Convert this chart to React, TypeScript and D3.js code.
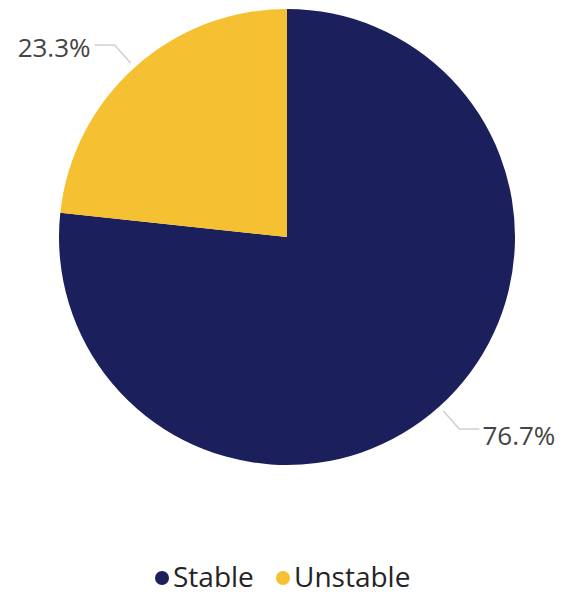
import React from "react";
import * as d3 from "d3";

const categories = ["Stable", "Unstable"];
const values = [76.7, 23.3];
const labels = ["76.7%", "23.3%"];
const colors = ["#1b1f5b", "#f5c133"];

export default function App() {
  const W = 561, H = 595;
  const cx = 287, cy = 237, r = 228;
  const pie = d3.pie<number>().sort(null).value((d) => d)(values);
  const arc = d3.arc<d3.PieArcDatum<number>>().innerRadius(0).outerRadius(r);
  const font = "'Segoe UI', 'Open Sans', sans-serif";

  const labelEls = pie.map((p, i) => {
    const mid = (p.startAngle + p.endAngle) / 2;
    const sx = Math.sin(mid), sy = -Math.cos(mid);
    const p0 = [cx + sx * (r + 6), cy + sy * (r + 6)];
    const p1 = [cx + sx * (r + 30), cy + sy * (r + 30)];
    const right = sx > 0;
    const p2 = [p1[0] + (right ? 20 : -20), p1[1]];
    return (
      <g key={i}>
        <polyline
          points={[p0, p1, p2].map((q) => q.join(",")).join(" ")}
          fill="none"
          stroke="#d0d0d0"
          strokeWidth={1.5}
        />
        <text
          x={p2[0] + (right ? 3 : -4)}
          y={p2[1]}
          dy={right ? "0.6em" : "0.45em"}
          textAnchor={right ? "start" : "end"}
          fontSize={26}
          fill="#444"
          fontFamily={font}
        >
          {labels[i]}
        </text>
      </g>
    );
  });

  return (
    <svg width={W} height={H} style={{ position: "absolute", left: 0, top: 0, background: "#fff" }}>
      <g transform={`translate(${cx},${cy})`}>
        {pie.map((p, i) => (
          <path key={i} d={arc(p) || ""} fill={colors[i]} />
        ))}
      </g>
      {labelEls}
      <g fontFamily={font} fontSize={28} fill="#252423">
        <circle cx={162} cy={578} r={7} fill={colors[0]} />
        <text x={173} y={587} fill="#252423">{categories[0]}</text>
        <circle cx={283} cy={578} r={7} fill={colors[1]} />
        <text x={294} y={587} fill="#252423">{categories[1]}</text>
      </g>
    </svg>
  );
}
